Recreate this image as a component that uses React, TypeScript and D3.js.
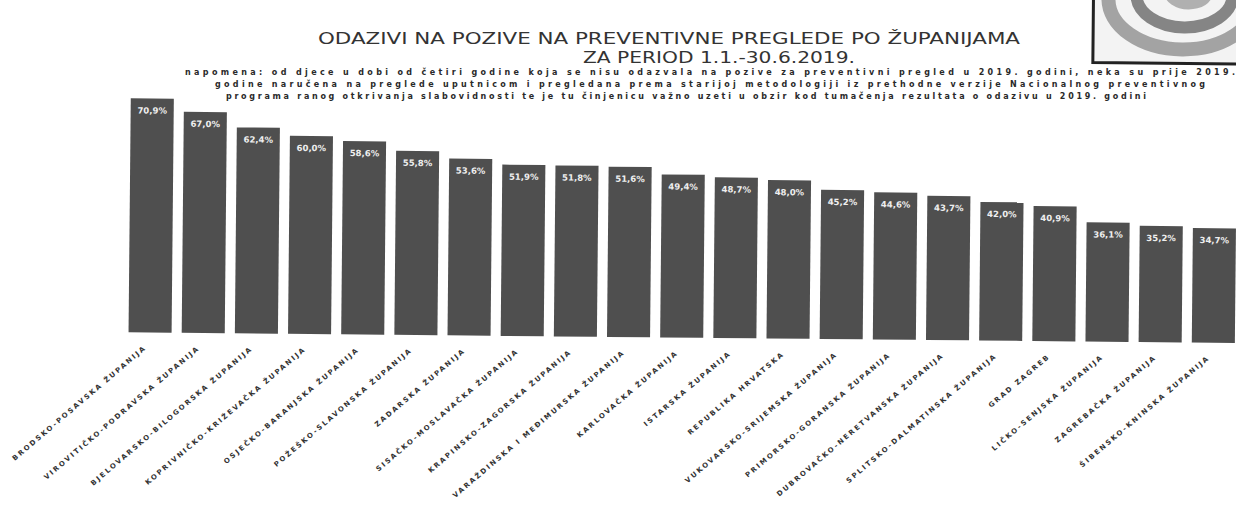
import React from 'react';
import * as d3 from 'd3';

// dimenzije slike
const width = 1236;
const height = 506;

// podaci
const zupanije = [
  'BRODSKO-POSAVSKA ŽUPANIJA',
  'VIROVITIČKO-PODRAVSKA ŽUPANIJA',
  'BJELOVARSKO-BILOGORSKA ŽUPANIJA',
  'KOPRIVNIČKO-KRIŽEVAČKA ŽUPANIJA',
  'OSJEČKO-BARANJSKA ŽUPANIJA',
  'POŽEŠKO-SLAVONSKA ŽUPANIJA',
  'ZADARSKA ŽUPANIJA',
  'SISAČKO-MOSLAVAČKA ŽUPANIJA',
  'KRAPINSKO-ZAGORSKA ŽUPANIJA',
  'VARAŽDINSKA I MEĐIMURSKA ŽUPANIJA',
  'KARLOVAČKA ŽUPANIJA',
  'ISTARSKA ŽUPANIJA',
  'REPUBLIKA HRVATSKA',
  'VUKOVARSKO-SRIJEMSKA ŽUPANIJA',
  'PRIMORSKO-GORANSKA ŽUPANIJA',
  'DUBROVAČKO-NERETVANSKA ŽUPANIJA',
  'SPLITSKO-DALMATINSKA ŽUPANIJA',
  'GRAD ZAGREB',
  'LIČKO-SENJSKA ŽUPANIJA',
  'ZAGREBAČKA ŽUPANIJA',
  'ŠIBENSKO-KNINSKA ŽUPANIJA',
];

const odaziv = [
  70.9, 67.0, 62.4, 60.0, 58.6, 55.8, 53.6, 51.9, 51.8, 51.6, 49.4,
  48.7, 48.0, 45.2, 44.6, 43.7, 42.0, 40.9, 36.1, 35.2, 34.7,
];

const naslov = [
  'ODAZIVI NA POZIVE NA PREVENTIVNE PREGLEDE PO ŽUPANIJAMA',
  'ZA PERIOD 1.1.-30.6.2019.',
];

const napomena = [
  'napomena: od djece u dobi od četiri godine koja se nisu odazvala na pozive za preventivni pregled u 2019. godini, neka su prije 2019.',
  'godine naručena na preglede uputnicom i pregledana prema starijoj metodologiji iz prethodne verzije Nacionalnog preventivnog',
  'programa ranog otkrivanja slabovidnosti te je tu činjenicu važno uzeti u obzir kod tumačenja rezultata o odazivu u 2019. godini',
];

const baseline = 337;

export default function App() {
  const x = d3
    .scaleBand<string>()
    .domain(zupanije)
    .range([124, 1241])
    .paddingInner(0.19)
    .paddingOuter(0.1);

  const y = d3.scaleLinear().domain([0, 70]).range([baseline, baseline - 70 * 3.3]);

  const fmt = (v: number) => d3.format('.1f')(v).replace('.', ',') + '%';

  // položaj redaka napomene (centar, baseline, širina)
  const noteLines = [
    { cx: 710, y: 74.5, w: 1050 },
    { cx: 710, y: 86.5, w: 990 },
    { cx: 686, y: 98.5, w: 920 },
  ];

  return (
    <div style={{ position: 'absolute', left: 0, top: 0 }}>
      <svg width={width} height={height} style={{ display: 'block', background: '#fff' }}>
        {/* naslov */}
        <text
          x={669}
          y={44}
          textAnchor="middle"
          fontFamily="DejaVu Sans, sans-serif"
          fontSize={16}
          fill="#333"
          textLength={702}
          lengthAdjust="spacingAndGlyphs"
        >
          {naslov[0]}
        </text>
        <text
          x={719}
          y={63}
          textAnchor="middle"
          fontFamily="DejaVu Sans, sans-serif"
          fontSize={16}
          fill="#333"
          textLength={272}
          lengthAdjust="spacingAndGlyphs"
        >
          {naslov[1]}
        </text>

        {/* napomena */}
        {napomena.map((t, i) => (
          <text
            key={i}
            x={noteLines[i].cx}
            y={noteLines[i].y}
            textAnchor="middle"
            fontFamily="DejaVu Sans, sans-serif"
            fontWeight="bold"
            fontSize={8}
            fill="#2a2a2a"
            textLength={noteLines[i].w}
            lengthAdjust="spacing"
          >
            {t}
          </text>
        ))}

        <g transform="rotate(0.55, 618, 253)">
          {/* slika u gornjem desnom kutu */}
          <g>
            <clipPath id="img">
              <rect x={1091} y={-10} width={160} height={68} />
            </clipPath>
            <g clipPath="url(#img)">
              <rect x={1091} y={-10} width={160} height={68} fill="#f3f3f3" />
              <ellipse cx={1180} cy={-6} rx={74} ry={50} fill="none" stroke="#a3a3a3" strokeWidth={14} />
              <ellipse cx={1182} cy={-10} rx={48} ry={32} fill="none" stroke="#858585" strokeWidth={12} />
              <ellipse cx={1186} cy={-12} rx={24} ry={16} fill="#b0b0b0" />
            </g>
            <path d="M1091,-10 V58 H1250" fill="none" stroke="#222" strokeWidth={3} />
          </g>

          {/* stupci */}
          {zupanije.map((z, i) => (
            <rect
              key={z}
              x={x(z)}
              y={y(odaziv[i])}
              width={x.bandwidth()}
              height={baseline - y(odaziv[i])}
              fill="#4f4f4f"
            />
          ))}

          {/* vrijednosti */}
          {zupanije.map((z, i) => (
            <text
              key={z}
              x={(x(z) as number) + x.bandwidth() / 2}
              y={y(odaziv[i]) + 15}
              textAnchor="middle"
              fontFamily="DejaVu Sans, sans-serif"
              fontWeight="bold"
              fontSize={8.5}
              fill="#eeeeee"
            >
              {fmt(odaziv[i])}
            </text>
          ))}

          {/* nazivi županija */}
          {zupanije.map((z) => {
            const cx = (x(z) as number) + x.bandwidth() / 2 - 3;
            const cy = baseline + 16;
            return (
              <text
                key={z}
                transform={`translate(${cx},${cy}) rotate(-41)`}
                textAnchor="end"
                fontFamily="DejaVu Sans, sans-serif"
                fontWeight="bold"
                fontSize={7}
                letterSpacing={2}
                fill="#333"
              >
                {z}
              </text>
            );
          })}
        </g>
      </svg>
    </div>
  );
}
